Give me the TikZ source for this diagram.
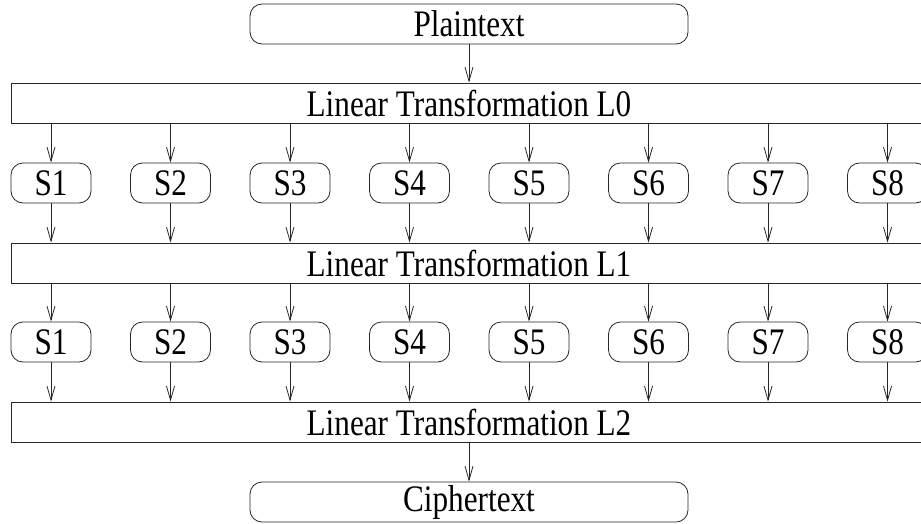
\documentclass[tikz,border=0pt]{standalone}
\usepackage{fontspec}
\setmainfont{Liberation Serif}
\usetikzlibrary{arrows.meta}
\newcommand{\stretchtxt}[1]{\scalebox{1}[1.2]{#1}}
\tikzset{
  base/.style={draw=black!85, line width=0.8pt, inner sep=0pt, font=\fontsize{31.2}{33}\selectfont, minimum height=40pt},
  roundbox/.style={base, rounded corners=12pt, minimum width=438pt},
  sbox/.style={base, rounded corners=12pt, minimum width=80pt},
  lbox/.style={base, minimum width=916pt},
  arr/.style={draw=black!85, line width=0.8pt, -{Straight Barb[length=14pt,width=8pt,line width=0.8pt]}}
}
\begin{document}
\begin{tikzpicture}[x=1pt,y=-1pt]
\useasboundingbox (0,0) rectangle (921,523);
\clip (0,0) rectangle (921,523);
\node[roundbox] (plain) at (469,24) {\stretchtxt{Plaintext}};
\node[lbox] (L0) at (469,103) {\stretchtxt{Linear Transformation L0}};
\node[lbox] (L1) at (469,263) {\stretchtxt{Linear Transformation L1}};
\node[lbox] (L2) at (469,422) {\stretchtxt{Linear Transformation L2}};
\node[roundbox] (cipher) at (469,502) {\stretchtxt{Ciphertext}};
\foreach \i in {1,...,8} {
  \pgfmathsetmacro{\xx}{51+119.5*(\i-1)}
  \node[sbox] (a\i) at (\xx,183) {\stretchtxt{S\i}};
  \node[sbox] (b\i) at (\xx,342) {\stretchtxt{S\i}};
  \draw[arr] (L0.south -| a\i) -- (a\i.north);
  \draw[arr] (a\i.south) -- (L1.north -| a\i);
  \draw[arr] (L1.south -| b\i) -- (b\i.north);
  \draw[arr] (b\i.south) -- (L2.north -| b\i);
}
\draw[arr] (plain.south) -- (L0.north);
\draw[arr] (L2.south) -- (cipher.north);
\end{tikzpicture}
\end{document}
